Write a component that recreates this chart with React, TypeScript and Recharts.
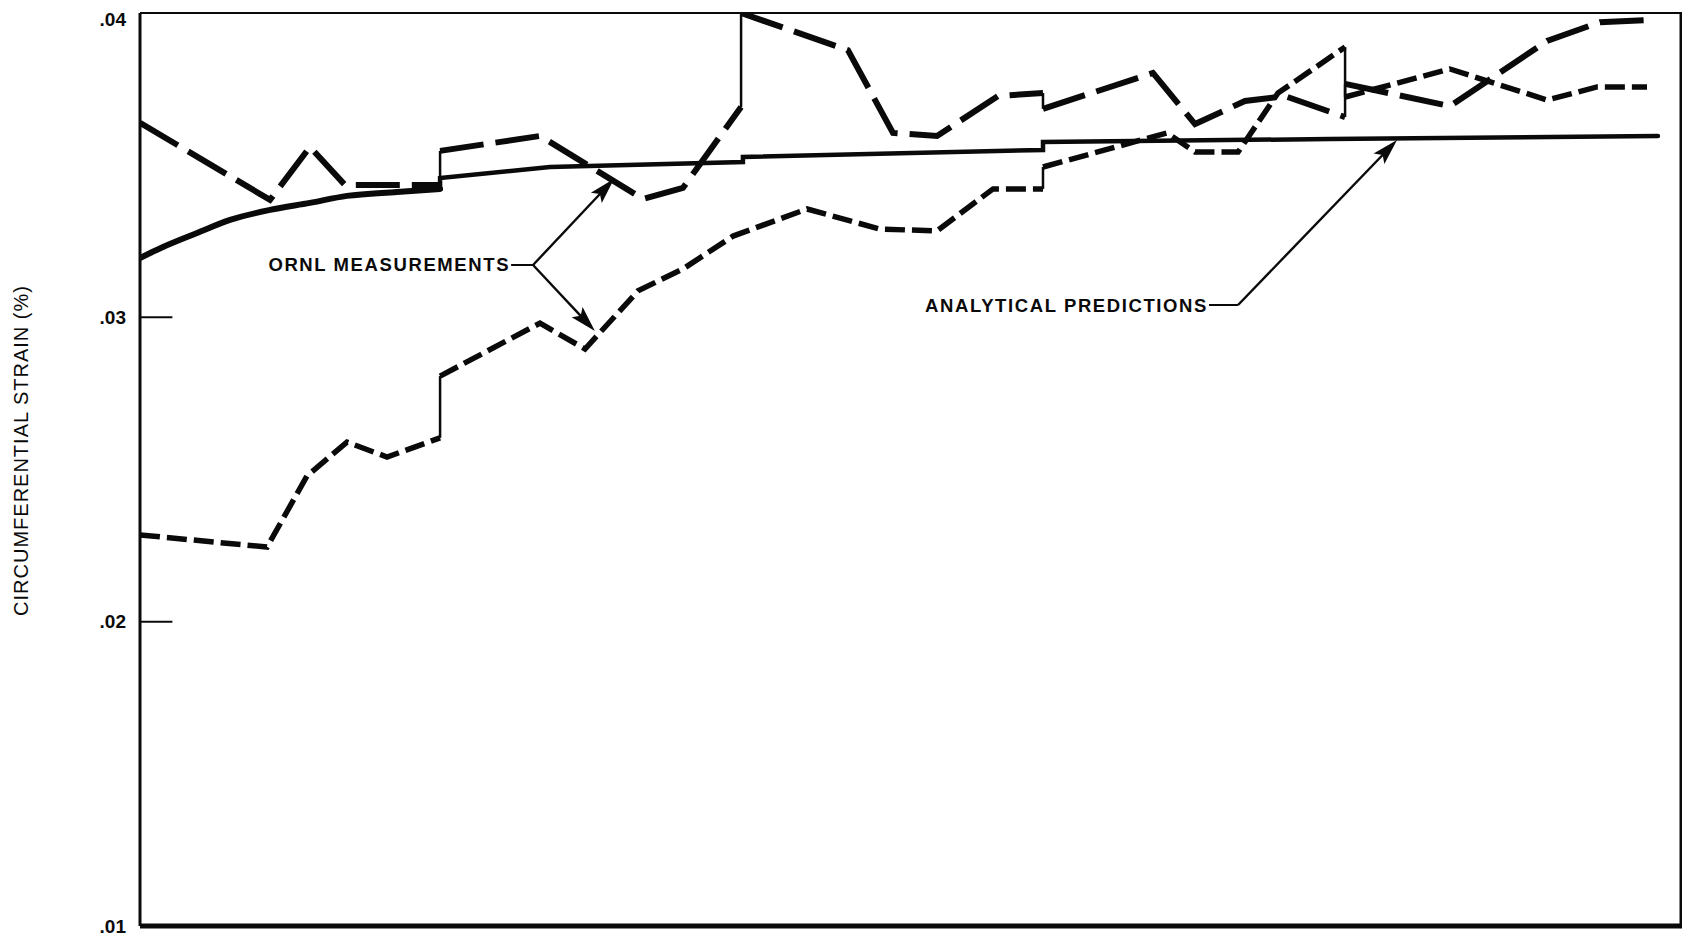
import React from "react";
import { LineChart, Line, XAxis, YAxis, ReferenceLine } from "recharts";

// x: relative position along the abscissa (0–100, unlabelled in the original)
// y: circumferential strain (%)
const analyticalCurve: [number, number][] = [
  [0, 0.03195], [1.49, 0.03231], [3.7, 0.03277], [5.84, 0.0332], [8.43, 0.03353],
  [11.02, 0.03376], [13.42, 0.03399], [16.67, 0.03412], [19.46, 0.03422],
];
const analyticalRest: [number, number][] = [
  [19.46, 0.03422], [19.46, 0.03458], [26.59, 0.03494], [39.1, 0.0351], [39.1, 0.03527],
  [58.56, 0.0355], [58.56, 0.03576], [77.17, 0.03586], [98.44, 0.03596],
];
const ornlUpper: [number, number][] = [
  [0, 0.03639], [8.43, 0.03386], [11.02, 0.0356], [13.29, 0.03435], [19.46, 0.03435],
  [19.46, 0.03547], [25.94, 0.03596], [32.62, 0.03389], [35.21, 0.03425], [38.98, 0.03691],
  [38.98, 0.04], [45.91, 0.03878], [48.83, 0.03606], [51.69, 0.03596], [55.64, 0.03727],
  [58.56, 0.03737], [58.56, 0.03685], [65.69, 0.03803], [68.42, 0.03635], [71.66, 0.03711],
  [74.25, 0.03727], [78.15, 0.03658], [78.15, 0.03767], [84.95, 0.03694], [91.25, 0.03908],
  [94.68, 0.0397], [97.92, 0.03977],
];
const ornlLower: [number, number][] = [
  [0, 0.02285], [8.24, 0.02245], [10.83, 0.02479], [13.42, 0.0259], [16.02, 0.02541],
  [19.46, 0.02604], [19.46, 0.02807], [25.94, 0.02981], [28.86, 0.02896], [32.3, 0.03087],
  [35.21, 0.03159], [38.46, 0.03267], [43.26, 0.03356], [47.99, 0.0329], [51.69, 0.03284],
  [55.32, 0.03422], [58.56, 0.03422], [58.56, 0.03494], [66.6, 0.03606], [68.42, 0.03543],
  [71.21, 0.03543], [73.8, 0.03737], [78.15, 0.03888], [78.15, 0.03724], [84.95, 0.03816],
  [91.25, 0.03714], [94.49, 0.03757], [97.73, 0.03757],
];
const yTicks = [0.01, 0.02, 0.03, 0.04];
const yTickLabels = [".01", ".02", ".03", ".04"];
const yTitle = "CIRCUMFERENTIAL STRAIN (%)";

// annotations: text end, leader join, arrow tips
const ornlLabel = { text: "ORNL MEASUREMENTS", end: [24.0, 0.03172], join: [25.49, 0.03172], tips: [[30.75, 0.03455], [29.5, 0.02955]] };
const analyticalLabel = { text: "ANALYTICAL PREDICTIONS", end: [69.26, 0.030405], join: [71.21, 0.030405], tips: [[81.52, 0.035827]] };

const FONT = "'Liberation Sans', Arial, Helvetica, sans-serif";
const INK = "#0a0a0a";

const toObjs = (pts: [number, number][]) => pts.map(([x, y]) => ({ x, y }));

function splitSteps(pts: [number, number][]) {
  const runs: [number, number][][] = [];
  const steps: [number, number][][] = [];
  let cur: [number, number][] = [pts[0]];
  for (let i = 1; i < pts.length; i++) {
    if (pts[i][0] === pts[i - 1][0]) {
      runs.push(cur);
      steps.push([pts[i - 1], pts[i]]);
      cur = [pts[i]];
    } else cur.push(pts[i]);
  }
  runs.push(cur);
  return { runs: runs.filter((r) => r.length > 1), steps };
}

const upper = splitSteps(ornlUpper);
const lower = splitSteps(ornlLower);

const arrowShape = (p: any) => {
  const { x1, y1, x2, y2 } = p;
  const dx = x2 - x1, dy = y2 - y1;
  const len = Math.hypot(dx, dy) || 1;
  const ux = dx / len, uy = dy / len;
  const hl = 26, hw = 7.5;
  const bx = x2 - ux * hl, by = y2 - uy * hl;
  const mx = x2 - ux * hl * 0.8, my = y2 - uy * hl * 0.8;
  return (
    <g>
      <line x1={x1} y1={y1} x2={mx} y2={my} stroke={INK} strokeWidth={2.4} />
      <polygon
        points={`${x2},${y2} ${bx - uy * hw},${by + ux * hw} ${mx},${my} ${bx + uy * hw},${by - ux * hw}`}
        fill={INK}
      />
    </g>
  );
};

const leaderShape = (text: string) => (p: any) => {
  const { x1, y1, x2, y2 } = p;
  return (
    <g>
      <line x1={x1 + 1} y1={y1} x2={x2} y2={y2} stroke={INK} strokeWidth={2} />
      <text
        x={x1}
        y={y1}
        textAnchor="end"
        dominantBaseline="central"
        fontFamily={FONT}
        fontWeight={700}
        fontSize={18.5}
        letterSpacing={1.6}
        fill={INK}
      >
        {text}
      </text>
    </g>
  );
};

const YTitle = (props: any) => {
  const vb = props.viewBox || { x: 0, y: 0, width: 0, height: 0 };
  const cx = vb.x + 13;
  const cy = vb.y + vb.height / 2 - 19;
  return (
    <text
      x={cx}
      y={cy}
      transform={`rotate(-90, ${cx}, ${cy})`}
      textAnchor="middle"
      dominantBaseline="central"
      fontFamily={FONT}
      fontSize={20}
      letterSpacing={1}
      fill={INK}
    >
      {yTitle}
    </text>
  );
};

export default function App() {
  return (
    <div style={{ background: "#fff" }}>
      <LineChart width={1682} height={933} margin={{ top: 5, right: 8, bottom: 15, left: 0 }}>
        <XAxis type="number" dataKey="x" domain={[0, 100]} hide allowDataOverflow />
        <YAxis
          type="number"
          domain={[0.01, 0.04]}
          ticks={yTicks}
          tickFormatter={(v: number) => yTickLabels[yTicks.indexOf(v)] ?? String(v)}
          axisLine={false}
          tickLine={false}
          tickSize={6}
          tickMargin={8}
          width={132}
          allowDataOverflow
          tick={{ fontFamily: FONT, fontSize: 19, fontWeight: 700, fill: INK }}
          label={<YTitle />}
        />

        {/* frame */}
        <ReferenceLine y={0.04} stroke={INK} strokeWidth={2} />
        <ReferenceLine y={0.01} stroke={INK} strokeWidth={5} />
        <ReferenceLine x={0} stroke={INK} strokeWidth={3} />
        <ReferenceLine x={100} stroke={INK} strokeWidth={5} />
        {/* inner tick marks */}
        <ReferenceLine segment={[{ x: 0, y: 0.03 }, { x: 2.1, y: 0.03 }]} stroke={INK} strokeWidth={2} />
        <ReferenceLine segment={[{ x: 0, y: 0.02 }, { x: 2.1, y: 0.02 }]} stroke={INK} strokeWidth={2} />

        {/* analytical predictions */}
        <Line
          data={toObjs(analyticalCurve)}
          dataKey="y"
          type="monotone"
          stroke={INK}
          strokeWidth={6}
          strokeLinecap="round"
          dot={false}
          activeDot={false}
          isAnimationActive={false}
        />
        <Line
          data={toObjs(analyticalRest)}
          dataKey="y"
          type="linear"
          stroke={INK}
          strokeWidth={4.5}
          strokeLinecap="round"
          dot={false}
          activeDot={false}
          isAnimationActive={false}
        />

        {/* ORNL measurements – upper (long dash) */}
        {upper.runs.map((r, i) => (
          <Line
            key={`u${i}`}
            data={toObjs(r)}
            dataKey="y"
            type="linear"
            stroke={INK}
            strokeWidth={6}
            strokeDasharray="44 12"
            dot={false}
            activeDot={false}
            isAnimationActive={false}
          />
        ))}
        {upper.steps.map((s, i) => (
          <Line
            key={`us${i}`}
            data={toObjs(s)}
            dataKey="y"
            type="linear"
            stroke={INK}
            strokeWidth={2.5}
            dot={false}
            activeDot={false}
            isAnimationActive={false}
          />
        ))}

        {/* ORNL measurements – lower (short dash) */}
        {lower.runs.map((r, i) => (
          <Line
            key={`l${i}`}
            data={toObjs(r)}
            dataKey="y"
            type="linear"
            stroke={INK}
            strokeWidth={5.5}
            strokeDasharray="20 7"
            dot={false}
            activeDot={false}
            isAnimationActive={false}
          />
        ))}
        {lower.steps.map((s, i) => (
          <Line
            key={`ls${i}`}
            data={toObjs(s)}
            dataKey="y"
            type="linear"
            stroke={INK}
            strokeWidth={2.5}
            dot={false}
            activeDot={false}
            isAnimationActive={false}
          />
        ))}

        {/* annotations */}
        <ReferenceLine
          segment={[{ x: ornlLabel.end[0], y: ornlLabel.end[1] }, { x: ornlLabel.join[0], y: ornlLabel.join[1] }]}
          shape={leaderShape(ornlLabel.text)}
        />
        {ornlLabel.tips.map((t, i) => (
          <ReferenceLine
            key={`ot${i}`}
            segment={[{ x: ornlLabel.join[0], y: ornlLabel.join[1] }, { x: t[0], y: t[1] }]}
            shape={arrowShape}
          />
        ))}
        <ReferenceLine
          segment={[{ x: analyticalLabel.end[0], y: analyticalLabel.end[1] }, { x: analyticalLabel.join[0], y: analyticalLabel.join[1] }]}
          shape={leaderShape(analyticalLabel.text)}
        />
        {analyticalLabel.tips.map((t, i) => (
          <ReferenceLine
            key={`at${i}`}
            segment={[{ x: analyticalLabel.join[0], y: analyticalLabel.join[1] }, { x: t[0], y: t[1] }]}
            shape={arrowShape}
          />
        ))}
      </LineChart>
    </div>
  );
}
